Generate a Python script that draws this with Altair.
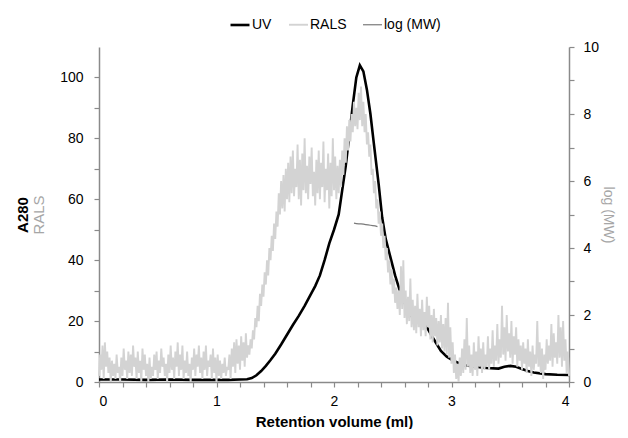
import altair as alt
import pandas as pd

# ---- data ----
uv_x = [0.0, 0.2, 0.4, 0.6, 0.8, 1.0, 1.1, 1.2, 1.26, 1.3, 1.34, 1.38, 1.42, 1.46, 1.5,
        1.55, 1.6, 1.65, 1.7, 1.75, 1.8, 1.84, 1.88, 1.92, 1.96, 2.0, 2.04, 2.07, 2.1,
        2.13, 2.16, 2.19, 2.22, 2.25, 2.28, 2.31, 2.34, 2.38, 2.41, 2.44, 2.48, 2.52,
        2.56, 2.6, 2.64, 2.67, 2.72, 2.79, 2.84, 2.91, 2.96, 3.02, 3.1, 3.2, 3.3, 3.4,
        3.45, 3.5, 3.55, 3.6, 3.65, 3.7, 3.8, 3.9, 4.0]
uv_y = [0.8, 0.8, 0.7, 0.8, 0.7, 0.7, 0.7, 0.8, 0.9, 1.3, 2.2, 3.6, 5.3, 7.2, 9.3,
        12.3, 15.5, 18.7, 21.7, 25.0, 28.6, 31.5, 35.0, 40.0, 45.5, 50.0, 55.0, 63.0, 71.0,
        81.0, 91.0, 100.0, 104.0, 102.0, 96.0, 88.0, 78.0, 65.0, 54.0, 47.0, 41.0, 35.0,
        30.0, 26.0, 23.0, 21.0, 20.0, 18.0, 14.6, 10.2, 8.3, 6.9, 5.6, 5.0, 4.6, 4.4,
        5.0, 5.3, 5.0, 4.3, 3.6, 3.1, 2.6, 2.4, 2.3]

# RALS sampled every 0.01 ml from 0 to 4
rals_y = [
    # 0.00-0.29
    2, 9, 4, 12, 1, 13, 5, 10, 3, 8, 0, 7, 2, 6, 1, 9, 3, 5, 0, 8, 2, 11, 4, 7, 1, 10, 3, 9, 2, 12,
    # 0.30-0.59
    5, 8, 1, 10, 3, 7, 0, 11, 4, 9, 2, 6, 0, 8, 1, 5, 2, 9, 4, 10, 1, 7, 3, 11, 5, 8, 2, 6, 0, 9,
    # 0.60-0.89
    3, 12, 4, 8, 1, 10, 5, 13, 2, 9, 4, 12, 1, 7, 3, 10, 2, 6, 0, 8, 4, 11, 2, 9, 5, 12, 3, 8, 1, 10,
    # 0.90-1.19
    4, 12, 2, 7, 5, 9, 1, 11, 3, 8, 0, 9, 2, 7, 1, 6, 3, 8, 2, 5, 4, 9, 1, 11, 5, 13, 3, 14, 6, 12,
    # 1.20-1.29
    4, 15, 7, 13, 5, 16, 8, 12, 9, 14,
    # 1.30-1.59
    11, 17, 14, 21, 18, 25, 20, 29, 25, 32, 28, 36, 32, 40, 35, 44, 40, 48, 43, 52,
    47, 56, 51, 62, 55, 66, 57, 68, 56, 70,
    # 1.60-2.05
    60, 72, 59, 74, 62, 76, 61, 70, 64, 78, 60, 73, 58, 75, 63, 80, 62, 71, 60, 74,
    65, 77, 61, 69, 58, 73, 62, 76, 60, 72, 64, 79, 59, 70, 63, 75, 57, 72, 61, 80,
    63, 74, 60, 71, 62, 73,
    # 2.06-2.30
    64, 76, 68, 80, 72, 84, 76, 86, 79, 88, 82, 92, 84, 90, 83, 95, 86, 97, 84, 92,
    82, 88, 78, 82, 74,
    # 2.31-2.55
    78, 68, 70, 62, 66, 57, 60, 52, 56, 48, 52, 44, 48, 40, 44, 36, 40, 32, 37, 29,
    34, 26, 31, 24, 30,
    # 2.56-2.99
    22, 38, 24, 40, 21, 30, 19, 28, 20, 34, 18, 27, 17, 25, 16, 29, 18, 24, 15, 27,
    17, 23, 15, 28, 18, 25, 14, 22, 13, 24, 15, 21, 12, 20, 13, 22, 11, 19, 10, 21,
    9, 26, 8, 18,
    # 3.00-3.29
    6, 13, 3, 9, 1, 6, 0, 8, 2, 11, 3, 14, 4, 21, 5, 12, 3, 9, 2, 13, 4, 10, 2, 15, 5, 11, 3, 13, 4, 9,
    # 3.30-3.59
    5, 15, 4, 11, 6, 17, 5, 12, 7, 19, 6, 14, 8, 25, 9, 18, 7, 22, 10, 16, 8, 20, 6, 15, 9, 18, 5, 14, 7, 12,
    # 3.60-3.89
    4, 13, 6, 11, 3, 14, 5, 10, 2, 12, 4, 9, 6, 20, 5, 13, 3, 11, 1, 9, 4, 14, 6, 12, 7, 19, 5, 16, 8, 13,
    # 3.90-4.00
    6, 22, 8, 18, 5, 20, 7, 14, 3, 10, 2,
]
rals_x = [round(i * 0.01, 2) for i in range(len(rals_y))]

mw_x = [2.17, 2.19, 2.21, 2.23, 2.25, 2.27, 2.29, 2.31, 2.33, 2.35, 2.37]
mw_y = [4.74, 4.73, 4.72, 4.72, 4.71, 4.70, 4.69, 4.68, 4.67, 4.66, 4.64]

series_names = ["UV", "RALS", "log (MW)"]
series_colors = ["#000000", "#d3d3d3", "#7a7a7a"]
series_widths = [2.6, 1.2, 1.0]

x_ticks = [0, 0.2, 0.4, 0.6, 0.8, 1, 1.2, 1.4, 1.6, 1.8, 2, 2.2, 2.4, 2.6, 2.8,
           3, 3.2, 3.4, 3.6, 3.8, 4]
left_ticks = [0, 10, 20, 30, 40, 50, 60, 70, 80, 90, 100]
right_ticks = [0, 1, 2, 3, 4, 5, 6, 7, 8, 9, 10]

df_uv = pd.DataFrame({"x": uv_x, "y": uv_y, "series": "UV"})
df_rals = pd.DataFrame({"x": rals_x, "y": rals_y, "series": "RALS"})
df_mw = pd.DataFrame({"x": mw_x, "y": mw_y, "series": "log (MW)"})

FONT = "Liberation Sans"
AXC = "#8a8a8a"
GRAYTXT = "#a6a6a6"

color = alt.Color(
    "series:N",
    scale=alt.Scale(domain=series_names, range=series_colors),
    legend=alt.Legend(
        title=None, orient="none", direction="horizontal", legendX=130, legendY=-33,
        symbolType="stroke", symbolSize=360, symbolStrokeWidth=2.2,
        labelFont=FONT, labelFontSize=14, labelColor="#000000",
        labelOffset=1, columnPadding=13,
    ),
)
sw = alt.StrokeWidth(
    "series:N", scale=alt.Scale(domain=series_names, range=series_widths), legend=None
)

xenc = alt.X(
    "x:Q",
    scale=alt.Scale(domain=[0, 4], nice=False, zero=False),
    axis=alt.Axis(
        values=x_ticks,
        labelExpr="abs(datum.value - round(datum.value)) < 0.001 ? format(datum.value, 'd') : ''",
        title="Retention volume (ml)", titleFontWeight="bold", titleFontSize=15,
        titlePadding=6, labelPadding=7,
    ),
)

uv = alt.Chart(df_uv).mark_line().encode(
    x=xenc,
    y=alt.Y(
        "y:Q",
        scale=alt.Scale(domain=[0, 110], nice=False),
        axis=alt.Axis(
            orient="left", values=left_ticks, labelPadding=11,
            labelExpr="datum.value % 20 == 0 ? datum.label : ''",
            title="A280", titleX=-77, titleBaseline="middle",
            titleFontWeight="bold", titleFontSize=15, titleColor="#000000",
        ),
    ),
    color=color,
    strokeWidth=sw,
)

rals = alt.Chart(df_rals).mark_line().encode(
    x=xenc,
    y=alt.Y(
        "y:Q",
        scale=alt.Scale(domain=[0, 110], nice=False),
        axis=alt.Axis(
            orient="left", labels=False, ticks=False, domain=False,
            title="RALS", titleX=-61, titleBaseline="middle",
            titleFontWeight="normal", titleFontSize=15, titleColor=GRAYTXT,
        ),
    ),
    color=color,
    strokeWidth=sw,
)

mw = alt.Chart(df_mw).mark_line().encode(
    x=xenc,
    y=alt.Y(
        "y:Q",
        scale=alt.Scale(domain=[0, 10], nice=False),
        axis=alt.Axis(
            orient="right", values=right_ticks, labelPadding=9,
            labelExpr="datum.value % 2 == 0 ? datum.label : ''",
            title="log (MW)", titleX=38, titleBaseline="middle",
            titleFontWeight="normal", titleFontSize=14, titleColor=GRAYTXT,
        ),
    ),
    color=color,
    strokeWidth=sw,
)

chart = (
    alt.layer(uv, rals, mw)
    .resolve_scale(y="independent")
    .properties(width=470, height=335, padding={"left": 7, "top": 6, "right": 4, "bottom": 0})
    .configure_axis(
        grid=False, domainColor=AXC, tickColor=AXC, domainWidth=1.5, tickWidth=1.2,
        tickSize=5, labelFont=FONT, titleFont=FONT, labelFontSize=14,
        labelColor="#000000",
    )
    .configure_view(stroke=None)
)

chart.save("out.html", embed_options={"renderer": "svg", "actions": False})
